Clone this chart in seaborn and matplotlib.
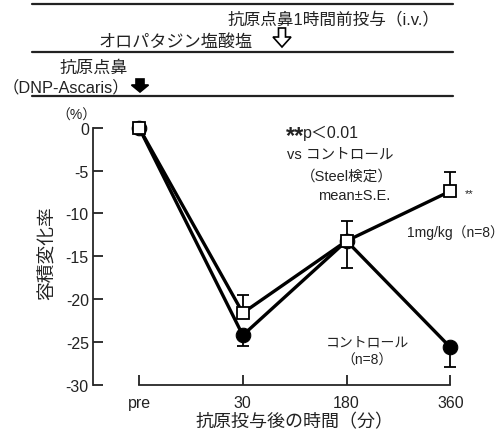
import pandas as pd
import matplotlib.pyplot as plt
import seaborn as sns
from matplotlib.lines import Line2D
from matplotlib.patches import Polygon

# Time points and mean % change
times = ['pre', '30', '180', '360']
control_mean = [0, -24.2, -13.2, -25.6]
control_se = [0, 1.3, 3.2, 2.3]
olo_mean = [0, -21.6, -13.2, -7.4]
olo_se = [0, 2.1, 2.3, 2.2]

df = pd.DataFrame({
    'time': times * 2,
    'change': control_mean + olo_mean,
    'group': ['control'] * 4 + ['olo'] * 4,
})

sns.set_style('ticks')
plt.rcParams['font.family'] = ['Liberation Sans', 'Noto Sans CJK JP', 'DejaVu Sans']

W, H = 503, 435
fig = plt.figure(figsize=(W / 100, H / 100), dpi=100)
ax = fig.add_axes([93 / W, 1 - 386 / H, (470 - 93) / W, (386 - 121) / H])
txt = '#222222'

# one-sided error bars: control downward, 1mg/kg upward
ax.errorbar(times, control_mean, yerr=[control_se, [0] * 4], fmt='none',
            ecolor='black', elinewidth=1.3, capsize=4, capthick=1.3, zorder=1)
ax.errorbar(times, olo_mean, yerr=[[0] * 4, olo_se], fmt='none',
            ecolor='black', elinewidth=1.3, capsize=4, capthick=1.3, zorder=1)

sns.lineplot(data=df[df.group == 'control'], x='time', y='change', ax=ax,
             color='black', linewidth=2.4, marker='o', markersize=10.5,
             markerfacecolor='black', markeredgecolor='black', zorder=2)
sns.lineplot(data=df[df.group == 'olo'], x='time', y='change', ax=ax,
             color='black', linewidth=2.4, marker='s', markersize=8,
             markerfacecolor='white', markeredgecolor='black',
             markeredgewidth=1.3, zorder=3)

ax.set_xlim(-0.444, 3.19)
ax.set_ylim(-30, 0.9)
ax.set_yticks([0, -5, -10, -15, -20, -25, -30])
ax.set_yticklabels(['0', '-5', '-10', '-15', '-20', '-25', '-30'])
ax.spines['top'].set_visible(False)
ax.spines['right'].set_visible(False)
ax.spines['left'].set_bounds(-30, 0)
ax.spines['bottom'].set_bounds(0, 3)
for s in ['left', 'bottom']:
    ax.spines[s].set_linewidth(1.3)
ax.tick_params(direction='in', length=7, width=1.3, labelsize=11.5,
               colors=txt, pad=7)
ax.tick_params(axis='y', pad=3)
ax.set_xlabel('抗原投与後の時間（分）', fontsize=13, color=txt)
ax.xaxis.set_label_coords((295 - 93) / (470 - 93), -0.105)
ax.set_ylabel('容積変化率', fontsize=13.5, color=txt)
ax.yaxis.set_label_coords(-0.095, 0.5)

# annotations inside the plot
ax.text(1.42, -0.9, '**', fontsize=17, fontweight='bold', color=txt, va='center')
ax.text(1.58, -0.5, 'p＜0.01', fontsize=11.5, color=txt, va='center')
ax.text(1.43, -3.0, 'vs コントロール', fontsize=10.5, color=txt, va='center')
ax.text(1.56, -5.6, '（Steel検定）', fontsize=10.5, color=txt, va='center')
ax.text(2.42, -7.9, 'mean±S.E.', fontsize=10.5, color=txt, va='center', ha='right')
ax.text(3.14, -7.6, '**', fontsize=8, color=txt, va='center')
ax.text(3.05, -12.1, '1mg/kg（n=8）', fontsize=10, color=txt, va='center', ha='center')
ax.text(2.2, -24.9, 'コントロール', fontsize=10, color=txt, va='center', ha='center')
ax.text(2.2, -27.0, '（n=8）', fontsize=10, color=txt, va='center', ha='center')


# header drawn in pixel coordinates
def fx(x):
    return x / W


def fy(y):
    return 1 - y / H


for yl in [5, 53, 97]:
    fig.add_artist(Line2D([fx(32), fx(453)], [fy(yl), fy(yl)], color='#222222', lw=1.6))

fig.text(fx(440), fy(20), '抗原点鼻1時間前投与（i.v.）', fontsize=12, color=txt,
         ha='right', va='center')
fig.text(fx(253), fy(42), 'オロパタジン塩酸塩', fontsize=12.3, color=txt,
         ha='right', va='center')
fig.text(fx(128), fy(68), '抗原点鼻', fontsize=12.3, color=txt, ha='right', va='center')
fig.text(fx(129), fy(88), '（DNP-Ascaris）', fontsize=11.8, color=txt,
         ha='right', va='center')
fig.text(fx(76), fy(116), '（%）', fontsize=10, color=txt, ha='center', va='center')


def arrow(cx, top, neck, tip, shaft, head, filled):
    pts = [(cx - shaft / 2, top), (cx + shaft / 2, top), (cx + shaft / 2, neck),
           (cx + head / 2, neck), (cx, tip), (cx - head / 2, neck),
           (cx - shaft / 2, neck)]
    fig.add_artist(Polygon([(fx(x), fy(y)) for x, y in pts], closed=True,
                           facecolor='black' if filled else 'white',
                           edgecolor='black', lw=1.2))


arrow(282, 29, 38, 48, 7, 18, False)
arrow(140, 80, 86, 93, 8, 17, True)

fig.savefig('out.png', dpi=100)
